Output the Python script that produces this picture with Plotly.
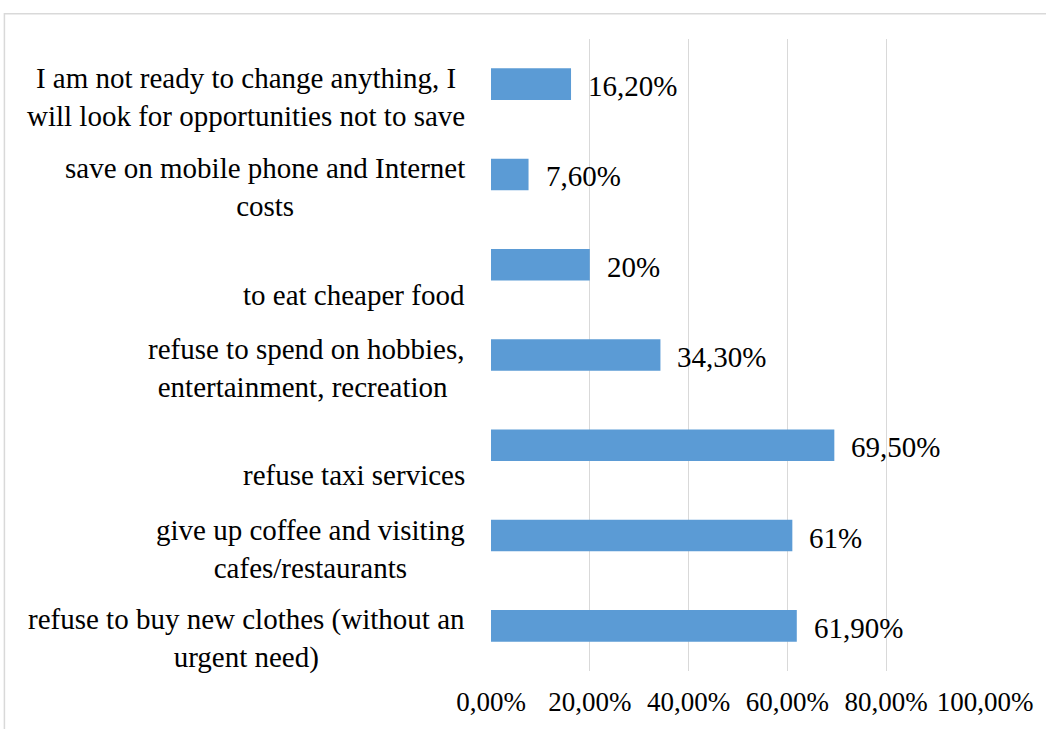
import plotly.graph_objects as go

categories = [
    "I am not ready to change anything, I<br>will look for opportunities not to save",
    "save on mobile phone and Internet<br>costs",
    " <br>to eat cheaper food",
    "refuse to spend on hobbies,<br>entertainment, recreation ",
    " <br>refuse taxi services",
    "give up coffee and visiting<br>cafes/restaurants",
    "refuse to buy new clothes (without an<br>urgent need)",
]
values = [0.162, 0.076, 0.20, 0.343, 0.695, 0.61, 0.619]
value_labels = ["16,20%", "7,60%", "20%", "34,30%", "69,50%", "61%", "61,90%"]
tick_vals = [0, 0.2, 0.4, 0.6, 0.8, 1.0]

FONT = "Liberation Serif"
ids = list(range(len(categories)))

fig = go.Figure()
fig.add_trace(go.Bar(
    x=values, y=ids, orientation="h",
    marker=dict(color="#5B9BD5", line=dict(width=0)),
    hoverinfo="skip",
))

annotations = []
for i, (c, v, lab) in enumerate(zip(categories, values, value_labels)):
    blank_first = c.startswith(" <br>")
    annotations.append(dict(
        x=0, y=i, xref="x", yref="y", text=c, showarrow=False,
        xanchor="right", yanchor="middle", align="center",
        xshift=-24, yshift=-11 if blank_first else -13,
        font=dict(family=FONT, size=29, color="#000000"),
    ))
    annotations.append(dict(
        x=v, y=i, xref="x", yref="y", text=lab, showarrow=False,
        xanchor="left", yanchor="middle", xshift=15, yshift=-2,
        font=dict(family=FONT, size=29, color="#000000"),
    ))

fig.update_layout(
    width=1046, height=729,
    margin=dict(l=491, r=61, t=39, b=52, pad=0),
    paper_bgcolor="white", plot_bgcolor="white",
    separators=",.",
    bargap=0.65,
    showlegend=False,
    annotations=annotations,
    xaxis=dict(
        range=[0, 1], tickvals=tick_vals, tickformat=".2%",
        showgrid=True, gridcolor="#D9D9D9", gridwidth=1.3,
        zeroline=False, showline=False, ticks="",
        ticklabelstandoff=12,
        tickfont=dict(family=FONT, size=27, color="#000000"),
        fixedrange=True,
    ),
    yaxis=dict(
        range=[len(categories) - 0.5, -0.5],
        tickvals=ids, showticklabels=False, showgrid=False,
        zeroline=False, showline=False, ticks="", fixedrange=True,
    ),
    shapes=[dict(
        type="rect", xref="paper", yref="paper",
        x0=-0.985, x1=1.3, y0=-0.3, y1=1.04,
        line=dict(color="#D9D9D9", width=1.5), fillcolor="rgba(0,0,0,0)",
        layer="below",
    )],
)

fig.write_html("out.html")
